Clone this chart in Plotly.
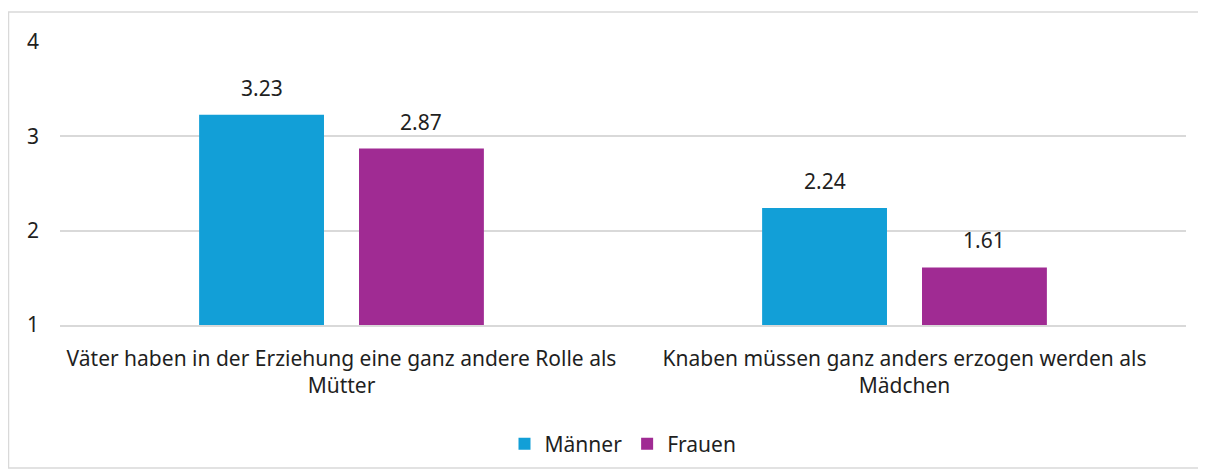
import plotly.graph_objects as go

categories = ["Väter haben in der Erziehung eine ganz andere Rolle als<br>Mütter",
              "Knaben müssen ganz anders erzogen werden als<br>Mädchen"]
series_names = ["Männer", "Frauen"]
maenner = [3.23, 2.24]
frauen = [2.87, 1.61]
colors = ["#129FD7", "#A02B93"]
y_ticks = [1, 2, 3, 4]

FONT = "Noto Sans"
FS = 21
TXT = "#1f1f1f"
BARGAP = 0.432
GROUPGAP = 0.219

# page body has an 8px margin; figure coordinates are screen - 8
W, H = 1198, 462
L, R, T, B = 52, 20, 34, 145
PW, PH = W - L - R, H - T - B

fig = go.Figure()
for name, vals, col in zip(series_names, [maenner, frauen], colors):
    fig.add_trace(go.Bar(name=name, x=list(range(len(categories))), y=vals,
                         marker=dict(color=col, line=dict(width=0))))

slot = (1 - BARGAP) / 2
for si, vals in enumerate([maenner, frauen]):
    off = (si - 0.5) * slot
    for ci, v in enumerate(vals):
        fig.add_annotation(x=ci + off, y=v, text=f"{v:.2f}", showarrow=False,
                           yanchor="bottom", yshift=11,
                           font=dict(family=FONT, size=FS, color=TXT))

fig.add_shape(type="rect", xref="paper", yref="paper",
              x0=(0.5 - L) / PW, x1=(1195 - L) / PW,
              y0=-(460 - (T + PH)) / PH, y1=1 + (T - 4) / PH,
              line=dict(color="#D9D9D9", width=1.5), layer="below")

fig.update_layout(
    width=W, height=H,
    margin=dict(l=L, r=R, t=T, b=B, autoexpand=False),
    paper_bgcolor="white", plot_bgcolor="white",
    barmode="group", bargap=BARGAP, bargroupgap=GROUPGAP,
    font=dict(family=FONT, size=FS, color=TXT),
    showlegend=True,
    legend=dict(orientation="h", x=0.5, xanchor="center",
                y=-119 / PH, yanchor="middle",
                font=dict(family=FONT, size=FS, color=TXT),
                itemwidth=30, traceorder="normal"),
    xaxis=dict(tickmode="array", tickvals=list(range(len(categories))),
               ticktext=categories, showgrid=False, zeroline=False,
               showline=True, linecolor="#D9D9D9", linewidth=1.5,
               ticks="", ticklabelstandoff=14, range=[-0.5, 1.5],
               automargin=False),
    yaxis=dict(range=[1, 4], tickvals=y_ticks, showgrid=True,
               gridcolor="#D9D9D9", gridwidth=1.5, zeroline=False,
               showline=False, ticks="", ticklabelstandoff=20,
               automargin=False),
)

fig.write_html("out.html")
